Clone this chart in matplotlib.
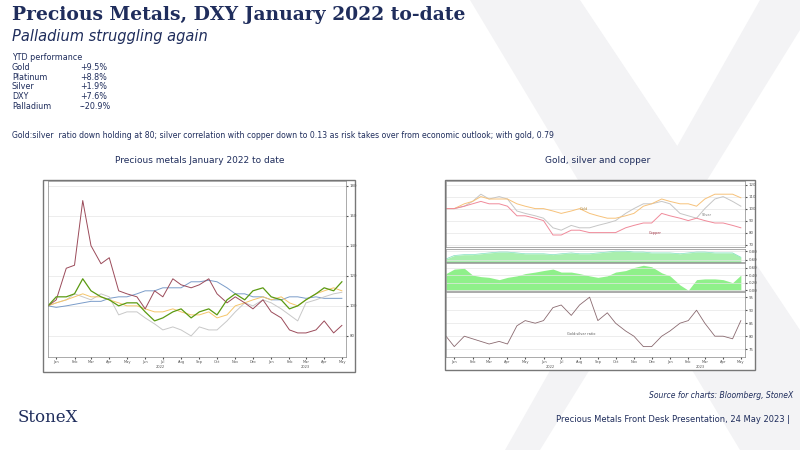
import matplotlib
matplotlib.use("Agg")
import matplotlib.pyplot as plt
import matplotlib.dates as mdates
import matplotlib.ticker as mticker
import pandas as pd
from matplotlib.patches import Rectangle, Polygon

dates = pd.date_range("2022-01-01", periods=34, freq="SMS")

# Left chart: indexed to 100
palladium = [100,104,125,127,170,140,128,132,110,108,106,98,110,106,118,114,112,114,118,108,102,106,102,98,104,96,92,84,82,82,84,90,82,87]
silver_l  = [100,106,106,108,118,110,106,104,100,102,102,96,90,92,96,98,92,96,98,94,104,108,104,110,112,106,104,98,100,104,108,112,110,116]
gold_l    = [100,102,104,106,108,106,106,104,102,100,100,98,96,96,98,96,94,94,96,92,94,100,102,104,106,104,106,102,100,104,108,110,112,110]
platinum  = [100,102,104,108,106,104,108,106,94,96,96,92,88,84,86,84,80,86,84,84,90,96,102,100,104,102,98,94,90,102,104,106,108,109]
dxy       = [100,99,100,101,102,103,103,105,106,106,108,110,110,112,112,112,116,116,117,116,112,108,108,106,106,104,104,106,106,105,106,105,105,105]

# Right chart
gold_r   = [100,100,104,106,110,108,108,108,104,102,100,100,98,96,98,100,96,94,92,92,94,96,102,104,108,106,104,104,102,108,112,112,112,109]
silver_r = [100,100,102,106,112,108,110,108,98,96,94,92,84,82,86,84,84,86,88,90,96,100,104,104,106,104,96,94,92,100,108,110,106,102]
copper_r = [100,100,102,104,106,104,104,102,94,94,92,90,78,78,82,82,80,80,80,80,84,86,88,88,96,94,92,90,92,90,88,88,86,84]
corr_gold_silver = [0.62,0.70,0.72,0.72,0.74,0.76,0.78,0.78,0.76,0.74,0.74,0.74,0.72,0.74,0.76,0.74,0.74,0.76,0.78,0.80,0.80,0.78,0.78,0.76,0.76,0.76,0.74,0.76,0.78,0.78,0.76,0.76,0.76,0.66]
corr_silver_copper = [0.44,0.56,0.58,0.40,0.36,0.34,0.28,0.34,0.38,0.44,0.48,0.52,0.56,0.48,0.48,0.44,0.38,0.34,0.38,0.48,0.52,0.60,0.66,0.62,0.46,0.38,0.14,0.00,0.28,0.30,0.30,0.28,0.20,0.40]
gs_ratio = [80,76,80,79,78,77,78,77,84,86,85,86,91,92,88,92,95,86,89,85,82,80,76,76,80,82,85,86,90,85,80,80,79,86]

perf_names = ["Gold", "Platinum", "Silver", "DXY", "Palladium"]
perf_vals = ["+9.5%", "+8.8%", "+1.9%", "+7.6%", "--20.9%"]

W, H = 800, 450
fig = plt.figure(figsize=(8, 4.5), dpi=100)
fig.patch.set_facecolor("white")

def box(x0, y0, x1, y1):
    return [x0 / W, 1 - y1 / H, (x1 - x0) / W, (y1 - y0) / H]

def fpoly(pts, color):
    fig.patches.append(Polygon([(x / W, 1 - y / H) for x, y in pts], closed=True,
                               transform=fig.transFigure, facecolor=color, lw=0, zorder=-3))

navy = "#1f2d5c"
wm = "#f3f3f5"
# watermark X (decorative)
fpoly([(470, 0), (580, 0), (800, 330), (800, 450), (740, 450)], wm)
fpoly([(760, 0), (800, 0), (800, 30), (540, 450), (505, 450)], wm)

fig.text(12/W, 1-15/H, "Precious Metals, DXY January 2022 to-date", fontsize=13.5,
         fontweight="bold", family="DejaVu Serif", color=navy, va="center")
fig.text(12/W, 1-36/H, "Palladium struggling again", fontsize=10.5, style="italic",
         color=navy, va="center")
fig.text(12/W, 1-58/H, "YTD performance", fontsize=5.8, color=navy, va="center")
for i, (n, v) in enumerate(zip(perf_names, perf_vals)):
    y = 1 - (67.5 + i*9.7)/H
    fig.text(12/W, y, n, fontsize=5.8, color=navy, va="center")
    fig.text(80/W, y, v, fontsize=5.8, color=navy, va="center")
fig.text(12/W, 1-135/H, "Gold:silver  ratio down holding at 80; silver correlation with copper down to 0.13 as risk takes over from economic outlook; with gold, 0.79",
         fontsize=5.6, color=navy, va="center")
fig.text(200/W, 1-160/H, "Precious metals January 2022 to date", fontsize=6.5, color=navy, ha="center", va="center")
fig.text(598/W, 1-160/H, "Gold, silver and copper", fontsize=6.5, color=navy, ha="center", va="center")
fig.text(793/W, 1-396/H, "Source for charts: Bloomberg, StoneX", fontsize=5.5, style="italic", color=navy, ha="right", va="center")
fig.text(18/W, 1-417/H, "StoneX", fontsize=12, family="DejaVu Serif", color=navy, va="center")
fig.text(790/W, 1-420/H, "Precious Metals Front Desk Presentation, 24 May 2023 |", fontsize=6, color=navy, ha="right", va="center")

def frame(x0, y0, x1, y1):
    fig.patches.append(Rectangle((x0/W, 1-y1/H), (x1-x0)/W, (y1-y0)/H, transform=fig.transFigure,
                                 fill=True, facecolor="white", edgecolor="#777777", lw=1, zorder=-1))

def style(ax, xlabels=True):
    ax.yaxis.tick_right()
    ax.tick_params(axis="y", labelsize=2.8, length=1.5, pad=1, colors="#555555")
    ax.tick_params(axis="x", labelsize=2.6, length=1.5, pad=0.8, colors="#555555")
    ax.grid(axis="y", color="#e6e6e6", lw=0.5)
    for s in ax.spines.values():
        s.set_color("#888888"); s.set_linewidth(0.5)
    ax.set_xlim(pd.Timestamp("2022-01-01"), pd.Timestamp("2023-05-22"))
    ax.xaxis.set_major_locator(mdates.MonthLocator(bymonthday=15))
    if xlabels:
        ax.xaxis.set_major_formatter(mdates.DateFormatter("%b"))
    else:
        ax.xaxis.set_major_formatter(mticker.NullFormatter())
        ax.tick_params(axis="x", length=0)

# Left chart
frame(43, 180, 355, 372)
ax = fig.add_axes(box(48, 181, 346, 357))
style(ax)
ax.plot(dates, dxy, color="#7a9cc9", lw=0.7)
ax.plot(dates, platinum, color="#c8c8c8", lw=0.7)
ax.plot(dates, gold_l, color="#f5c56a", lw=0.7)
ax.plot(dates, palladium, color="#9b4b5a", lw=0.7)
ax.plot(dates, silver_l, color="#5b9a12", lw=0.9)
ax.set_ylim(66, 183)
ax.set_yticks([80, 100, 120, 140, 160, 180])
fig.text(160/W, 1-365/H, "2022", fontsize=2.6, color="#555555", ha="center", va="top")
fig.text(305/W, 1-365/H, "2023", fontsize=2.6, color="#555555", ha="center", va="top")

# Right chart
frame(445, 180, 755, 370)
a1 = fig.add_axes(box(446, 181, 745, 247))
style(a1, False)
a1.plot(dates, silver_r, color="#c6c6c6", lw=0.7)
a1.plot(dates, gold_r, color="#f7c27a", lw=0.7)
a1.plot(dates, copper_r, color="#f08a9a", lw=0.7)
a1.set_ylim(68, 123); a1.set_yticks([70, 80, 90, 100, 110, 120])
a1.text(pd.Timestamp("2022-08-15"), 99, "Gold", fontsize=2.5, color="#b08030")
a1.text(pd.Timestamp("2023-03-10"), 94, "Silver", fontsize=2.5, color="#777777")
a1.text(pd.Timestamp("2022-12-10"), 79, "Copper", fontsize=2.5, color="#a03040")

a2 = fig.add_axes(box(446, 249, 745, 262))
style(a2, False)
a2.fill_between(dates, 0.5, corr_gold_silver, color="#a9efae", lw=0)
a2.plot(dates, corr_gold_silver, color="#7fe0c0", lw=0.5)
a2.set_ylim(0.55, 0.85); a2.set_yticks([0.6, 0.8])
a2.yaxis.set_major_formatter(mticker.FormatStrFormatter("%.2f"))

a3 = fig.add_axes(box(446, 263, 745, 291))
style(a3, False)
a3.fill_between(dates, 0, corr_silver_copper, color="#8ff08a", lw=0)
a3.set_ylim(-0.02, 0.72); a3.set_yticks([0, 0.2, 0.4, 0.6])
a3.yaxis.set_major_formatter(mticker.FormatStrFormatter("%.2f"))

a4 = fig.add_axes(box(446, 292, 745, 357))
style(a4)
a4.plot(dates, gs_ratio, color="#8a6a70", lw=0.6)
a4.set_ylim(72, 97); a4.set_yticks([75, 80, 85, 90, 95])
a4.text(pd.Timestamp("2022-07-25"), 80.5, "Gold:silver ratio", fontsize=2.5, color="#555555")
fig.text(550/W, 1-364.5/H, "2022", fontsize=2.6, color="#555555", ha="center", va="top")
fig.text(700/W, 1-364.5/H, "2023", fontsize=2.6, color="#555555", ha="center", va="top")

fig.savefig("out.png", dpi=100)
